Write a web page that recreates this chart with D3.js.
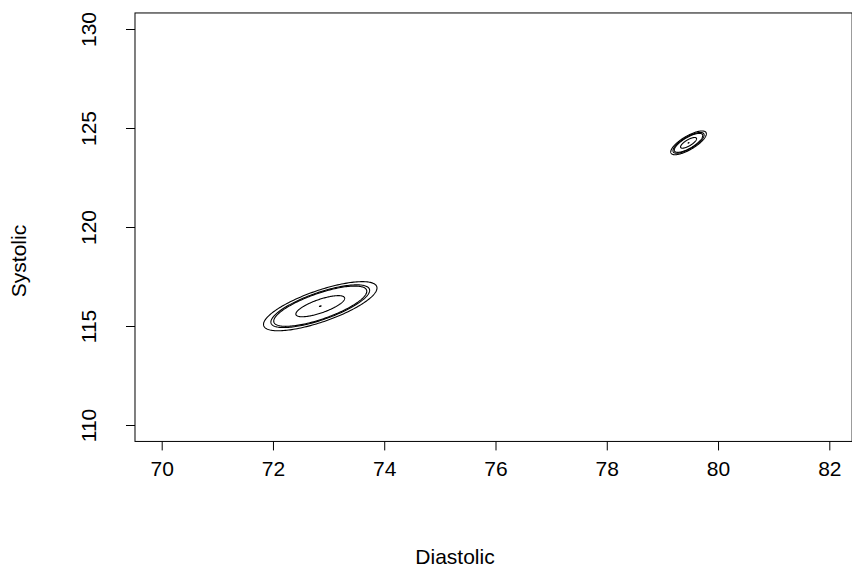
<!DOCTYPE html>
<html>
<head>
<meta charset="utf-8">
<script src="https://cdn.jsdelivr.net/npm/d3@7"></script>
<style>
	body { margin: 0; background: #fff; }
	svg text { font-family: "Liberation Sans", Arial, sans-serif; font-size: 21px; fill: #000; }
</style>
</head>
<body>
<svg width="852" height="573"></svg>
<script>
// tick values
var xTicks = [70, 72, 74, 76, 78, 80, 82]
var yTicks = [110, 115, 120, 125, 130]

// the two fitted clusters (means, spreads, correlation)
var clusterNames = ["low", "high"]
var meanDia = [72.85, 79.47]
var meanSys = [116.0, 124.25]
var sdDia = [0.51, 0.16]
var sdSys = [0.62, 0.3]
var corr = [0.74, 0.76]

// contour radii (Mahalanobis units) drawn for each cluster
var contourRadii = [
	[2.0, 1.74, 1.64, 0.86, 0.03],
	[2.0, 1.75, 1.6, 0.9, 0.05]
]

function main() {
	var svg = d3.select("svg")

	var xScale = d3.scaleLinear()
		.domain([70, 82])
		.range([161.7, 829.3])

	var yScale = d3.scaleLinear()
		.domain([110, 130])
		.range([425, 29])

	var box = { left: 69.52, right: 82.41, bottom: 109.17, top: 130.81 }

	// plot box
	svg.append("rect")
		.attr("x", xScale(box.left))
		.attr("y", yScale(box.top))
		.attr("width", xScale(box.right) - xScale(box.left))
		.attr("height", yScale(box.bottom) - yScale(box.top))
		.attr("fill", "none")
		.attr("stroke", "#000")
		.attr("stroke-width", 1)

	// axis-x
	var gx = svg.append("g")
		.attr("transform", "translate(0," + yScale(box.bottom) + ")")
		.call(d3.axisBottom(xScale).tickValues(xTicks).tickSize(9).tickSizeOuter(0).tickPadding(11))
	gx.select(".domain").remove()
	gx.selectAll("line").attr("stroke", "#000")
	gx.selectAll("text").attr("font-size", null).attr("font-family", null)

	// axis-y
	var gy = svg.append("g")
		.attr("transform", "translate(" + xScale(box.left) + ",0)")
		.call(d3.axisLeft(yScale).tickValues(yTicks).tickSize(9).tickSizeOuter(0))
	gy.select(".domain").remove()
	gy.selectAll("line").attr("stroke", "#000")
	gy.selectAll("text")
		.attr("font-size", null).attr("font-family", null)
		.attr("x", null).attr("dy", null)
		.attr("text-anchor", "middle")
		.attr("transform", "translate(" + (96 - xScale(box.left)) + ",0) rotate(-90)")

	// axis titles
	svg.append("text")
		.attr("x", 455)
		.attr("y", 564)
		.attr("text-anchor", "middle")
		.text("Diastolic")

	svg.append("text")
		.attr("transform", "translate(26,261) rotate(-90)")
		.attr("text-anchor", "middle")
		.text("Systolic")

	// contour ellipses
	var angles = d3.range(0, 2 * Math.PI, Math.PI / 90)
	var line = d3.line()
		.x(function (d) { return xScale(d[0]) })
		.y(function (d) { return yScale(d[1]) })
		.curve(d3.curveLinearClosed)

	clusterNames.forEach(function (name, i) {
		var g = svg.append("g").attr("class", "cluster-" + name)
		contourRadii[i].forEach(function (r) {
			var pts = angles.map(function (t) {
				var u = Math.cos(t), v = Math.sin(t)
				return [
					meanDia[i] + r * sdDia[i] * u,
					meanSys[i] + r * sdSys[i] * (corr[i] * u + Math.sqrt(1 - corr[i] * corr[i]) * v)
				]
			})
			g.append("path")
				.attr("d", line(pts))
				.attr("fill", "none")
				.attr("stroke", "#000")
				.attr("stroke-width", 1.1)
		})
	})
}
main()
</script>
</body>
</html>
